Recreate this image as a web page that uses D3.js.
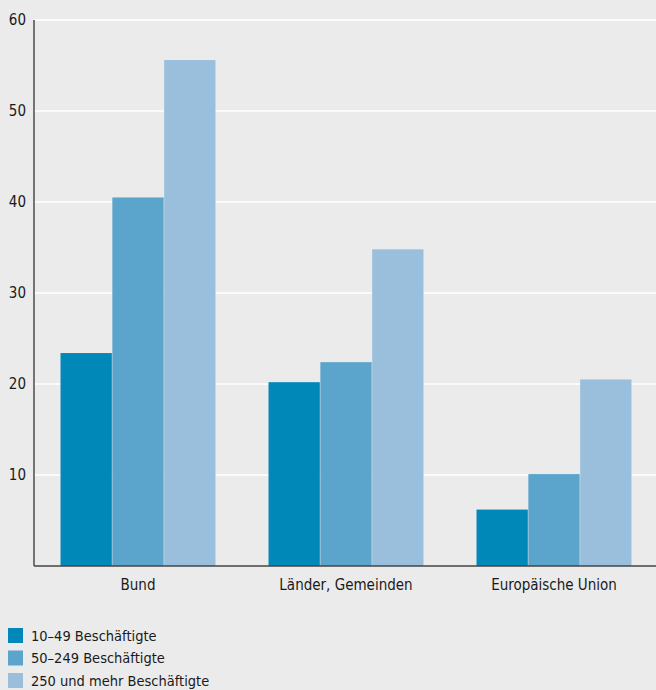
<!DOCTYPE html>
<html>
<head>
<meta charset="utf-8">
<script src="https://cdn.jsdelivr.net/npm/d3@7"></script>
<style>
  body { margin: 0; background: #ebebeb; }
  svg { display: block; font-family: "Liberation Sans Narrow", "DejaVu Sans Condensed", "Roboto", sans-serif; }
</style>
</head>
<body>
<div id="chart"></div>
<script>
// data
const categories = ["Bund", "Länder, Gemeinden", "Europäische Union"];
const seriesNames = ["10–49 Beschäftigte", "50–249 Beschäftigte", "250 und mehr Beschäftigte"];
const small = [23.4, 20.2, 6.2];
const medium = [40.5, 22.4, 10.1];
const large = [55.6, 34.8, 20.5];
const yTicks = [10, 20, 30, 40, 50, 60];
const colors = ["#0088b9", "#5ba4cb", "#9abfdd"];

const width = 656, height = 690;
const margin = {top: 20, left: 34, right: 0, bottom: 124};

const svg = d3.select("#chart").append("svg")
    .attr("width", width)
    .attr("height", height);

svg.append("rect").attr("width", width).attr("height", height).attr("fill", "#ebebeb");

// scales
const y = d3.scaleLinear().domain([0, 60]).range([height - margin.bottom, margin.top]);
const x0 = d3.scaleBand().domain(categories).range([margin.left, width + 2]).paddingInner(0.25).paddingOuter(0.125);
const x1 = d3.scaleBand().domain(d3.range(3)).range([0, x0.bandwidth()]).padding(0.01);

// gridlines
svg.append("g").selectAll("line")
    .data(yTicks)
    .join("line")
    .attr("x1", margin.left).attr("x2", width)
    .attr("y1", d => y(d)).attr("y2", d => y(d))
    .attr("stroke", "#ffffff").attr("stroke-width", 1.5);

// bars
const rows = categories.map((c, i) => ({cat: c, vals: [small[i], medium[i], large[i]]}));
const groups = svg.append("g").selectAll("g")
    .data(rows)
    .join("g")
    .attr("transform", d => `translate(${x0(d.cat)},0)`);

groups.selectAll("rect")
    .data(d => d.vals.map((v, k) => ({v, k})))
    .join("rect")
    .attr("x", d => x1(d.k))
    .attr("width", x1.bandwidth())
    .attr("y", d => y(d.v))
    .attr("height", d => y(0) - y(d.v))
    .attr("fill", d => colors[d.k]);

// y axis
const yAxis = svg.append("g")
    .attr("transform", `translate(${margin.left},0)`)
    .call(d3.axisLeft(y).tickValues(yTicks).tickSize(0).tickPadding(8))
    .attr("font-family", null).attr("font-size", null);
yAxis.select(".domain").remove();
yAxis.selectAll("text").attr("font-size", 15).attr("fill", "#1a1a1a");
svg.append("line")
    .attr("x1", margin.left).attr("x2", margin.left)
    .attr("y1", y(60)).attr("y2", y(0))
    .attr("stroke", "#333").attr("stroke-width", 1.3);

// x axis
const xAxis = svg.append("g")
    .attr("transform", `translate(0,${y(0)})`)
    .call(d3.axisBottom(x0).tickSize(0).tickPadding(13))
    .attr("font-family", null).attr("font-size", null);
xAxis.select(".domain").remove();
xAxis.selectAll("text").attr("font-size", 15).attr("fill", "#1a1a1a");
svg.append("line")
    .attr("x1", margin.left).attr("x2", width)
    .attr("y1", y(0)).attr("y2", y(0))
    .attr("stroke", "#444").attr("stroke-width", 1.3);

// legend
const legend = svg.append("g").attr("transform", "translate(8,628)");
const li = legend.selectAll("g")
    .data(seriesNames)
    .join("g")
    .attr("transform", (d, i) => `translate(0,${i * 22.5})`);
li.append("rect").attr("width", 15).attr("height", 15).attr("fill", (d, i) => colors[i]);
li.append("text")
    .attr("x", 23).attr("y", 7.5).attr("dy", "0.35em")
    .attr("font-size", 14.5).attr("fill", "#1a1a1a")
    .text(d => d);
</script>
</body>
</html>
